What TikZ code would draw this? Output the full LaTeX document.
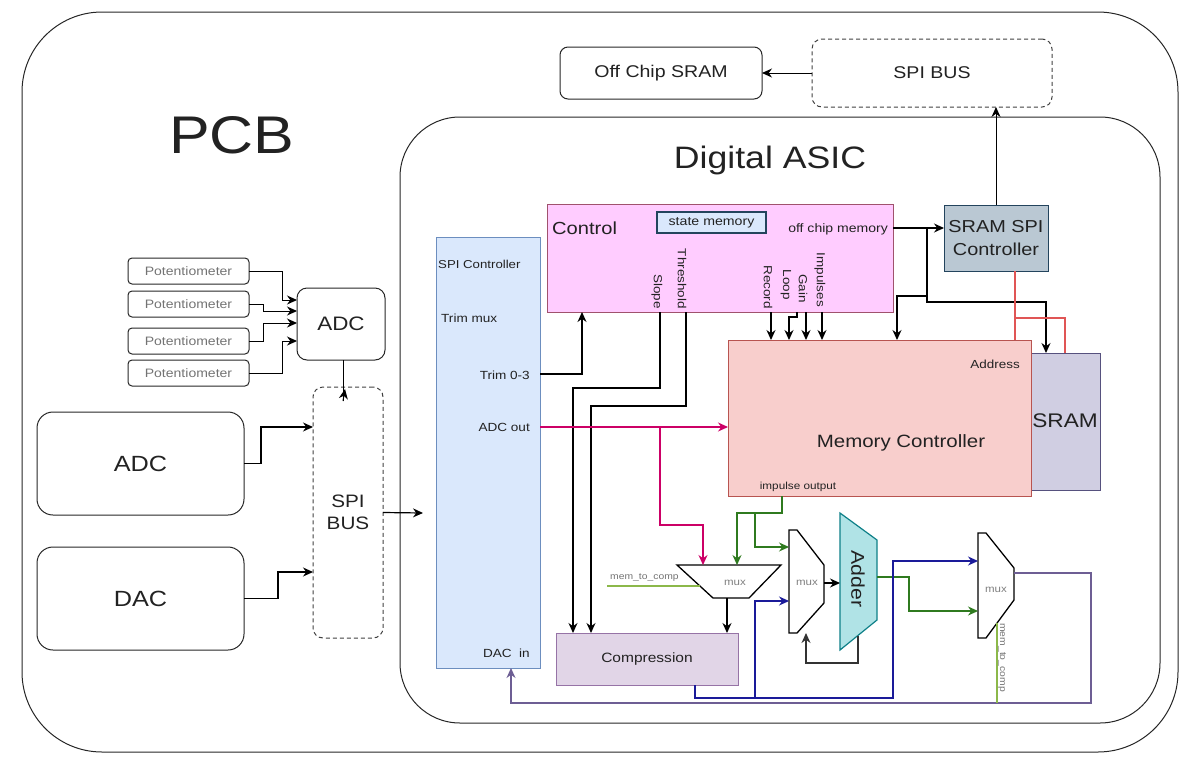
\documentclass[tikz,border=0pt]{standalone}
\usepackage{fontspec}
\setmainfont{Liberation Sans}[FakeStretch=1.15]
\usetikzlibrary{arrows.meta}
\definecolor{ctrlfill}{HTML}{FFCCFF}
\definecolor{ctrldraw}{HTML}{A0526D}
\definecolor{bluefill}{HTML}{DAE8FC}
\definecolor{bluedraw}{HTML}{6C8EBF}
\definecolor{redfill}{HTML}{F8CECC}
\definecolor{reddraw}{HTML}{B85450}
\definecolor{sramfill}{HTML}{D0CEE2}
\definecolor{sramdraw}{HTML}{56517E}
\definecolor{grayfill}{HTML}{BAC8D3}
\definecolor{graydraw}{HTML}{23445D}
\definecolor{purpfill}{HTML}{E1D5E7}
\definecolor{purpdraw}{HTML}{9673A6}
\definecolor{tealfill}{HTML}{B0E3E6}
\definecolor{tealdraw}{HTML}{0E8088}
\definecolor{magline}{HTML}{CC0066}
\definecolor{grnline}{HTML}{2F7A1F}
\definecolor{ltgreen}{HTML}{8CB84A}
\definecolor{navyline}{HTML}{1A1A99}
\definecolor{purpline}{HTML}{6D5E94}
\definecolor{redline}{HTML}{E05555}
\definecolor{txt}{HTML}{222222}
\tikzset{
  fs/.style={font=\fontsize{#1}{#1}\selectfont},
  blk/.style={inner sep=0pt, outer sep=0pt, anchor=north west},
  rbox/.style={blk, draw=black!85, line width=1pt, rounded corners=#1},
  dbox/.style={blk, draw=black!75, line width=1pt, dashed, dash pattern=on 4pt off 3pt, rounded corners=10},
  arr/.style={line width=1.2pt, -{Stealth[length=10pt,width=9pt]}},
  arrM/.style={draw=magline, line width=1.2pt, -{Stealth[length=10pt,width=9pt]}},
  arrG/.style={draw=grnline, line width=1.2pt, -{Stealth[length=10pt,width=9pt]}},
  arrB/.style={draw=navyline, line width=1.2pt, -{Stealth[length=10pt,width=9pt]}},
  arrP/.style={draw=purpline, line width=1.2pt, -{Stealth[length=10pt,width=9pt]}},
  lbl/.style={text=txt, inner sep=0pt, fs=11.8},
  vlbl/.style={text=txt, inner sep=0pt, fs=11.7, rotate=-90, anchor=east},
}
\begin{document}
\begin{tikzpicture}[x=1pt,y=-1pt]
\useasboundingbox (0,0) rectangle (1184,756);
% containers
\node[rbox=80, minimum width=1156, minimum height=740] (pcb) at (22,12) {};
\node[rbox=60, minimum width=760, minimum height=606] (asic) at (400,117) {};
\node[fs=53, text=txt] (pcbl) at (232,135) {PCB};
\node[fs=31, text=txt] (asicl) at (770,160) {Digital ASIC};
% top
\node[rbox=8, minimum width=202, minimum height=52, fs=17, text=txt] (offsram) at (560,47) {Off Chip SRAM};
\node[dbox, minimum width=240, minimum height=68, fs=17, text=txt] (spibusT) at (812,39) {SPI BUS};
\node[blk, draw=graydraw, fill=grayfill, line width=1pt, minimum width=104, minimum height=66, align=center, fs=17.3, text=txt] (sramspi) at (944,205) {SRAM SPI\\[5pt]Controller};
% control
\node[blk, draw=ctrldraw, fill=ctrlfill, line width=1pt, minimum width=346, minimum height=108] (ctrl) at (547,204) {};
\node[lbl, fs=17.5, anchor=west] (ctrll) at (552,228) {Control};
\node[blk, draw=graydraw, fill=bluefill, line width=1.5pt, minimum width=109, minimum height=21, fs=12.3, text=txt] (statemem) at (657,212) {state memory};
\node[lbl, fs=12.2, anchor=east] (ocml) at (888,229) {off chip memory};
\node[vlbl] (slope) at (657,309) {Slope};
\node[vlbl] (thresh) at (682,309) {Threshold};
\node[vlbl] (record) at (768,309) {Record};
\node[vlbl] (loop) at (786,300) {Loop};
\node[vlbl] (gain) at (803,303) {Gain};
\node[vlbl] (impulses) at (820,307) {Impulses};
% SPI controller
\node[blk, draw=bluedraw, fill=bluefill, line width=1pt, minimum width=104, minimum height=431] (spictrl) at (436,237) {};
\node[lbl, fs=11.5, anchor=west] (spil) at (438,264) {SPI Controller};
\node[lbl, anchor=west] (trimmux) at (441,318) {Trim mux};
\node[lbl, anchor=east] (trim03) at (530,375) {Trim 0-3};
\node[lbl, anchor=east] (adcout) at (530,427) {ADC out};
\node[lbl, anchor=east] (dacin) at (530,653) {DAC\ \ in};
% SRAM and memory controller
\node[blk, draw=sramdraw, fill=sramfill, line width=1pt, minimum width=69, minimum height=137] (sram) at (1031,353) {};
\node[fs=19.7, text=txt] (sraml) at (1065,421) {SRAM};
\node[blk, draw=reddraw, fill=redfill, line width=1pt, minimum width=303, minimum height=156] (memctrl) at (728,340) {};
\node[fs=17.8, text=txt] (memctrll) at (901,443) {Memory Controller};
\node[lbl, fs=11.7, anchor=east] (addrl) at (1020,364) {Address};
\node[lbl, fs=10.2] (impoutl) at (798,487) {impulse output};
% compression
\node[blk, draw=purpdraw, fill=purpfill, line width=1pt, minimum width=182, minimum height=52, fs=13.5, text=txt] (comp) at (556,633) {Compression};
% muxes and adder
\draw[line width=1.3pt, fill=white] (677,565) -- (781,565) -- (749,598) -- (713,598) -- cycle;
\node[lbl, fs=10, text=black!50] (mux1) at (735,583) {mux};
\draw[line width=1.3pt, fill=white] (789,530) -- (797,530) -- (824,565) -- (824,603) -- (797,633) -- (789,633) -- cycle;
\node[lbl, fs=10, text=black!50] (mux2) at (807,583) {mux};
\draw[draw=tealdraw, fill=tealfill, line width=1.2pt] (840,513) -- (877,540) -- (877,620) -- (840,650) -- cycle;
\node[fs=18.5, text=txt, rotate=-90] (adder) at (858,579) {Adder};
\draw[line width=1.3pt, fill=white] (978,533) -- (986,533) -- (1014,568) -- (1014,600) -- (986,638) -- (978,638) -- cycle;
\node[lbl, fs=10, text=black!50] (mux3) at (996,590) {mux};
% left side
\foreach \n/\y in {1/258,2/291,3/328,4/360}{
  \node[rbox=4, minimum width=121, minimum height=26, fs=12.2, text=black!55, line width=1pt] (pot\n) at (128,\y) {Potentiometer};
}
\node[rbox=10, minimum width=88, minimum height=72, fs=19.5, text=txt] (adcs) at (297,288) {ADC};
\node[dbox, minimum width=70, minimum height=251, align=center, fs=18, text=txt] (spibusL) at (313,387) {SPI\\[4pt]BUS};
\node[rbox=16, minimum width=207, minimum height=103, fs=22, text=txt] (adcB) at (37,412) {ADC};
\node[rbox=16, minimum width=207, minimum height=103, fs=22, text=txt] (dacB) at (37,547) {DAC};
% ---- connectors ----
\draw[arr, line width=1pt] (spibusT.west) -- (offsram.east);
\draw[arr, line width=1pt] (sramspi.north) -- (sramspi.north |- spibusT.south);
\coordinate (ocm) at (893,228);
\draw[arr] (ocm) -- (ocm -| sramspi.west);
\coordinate (j1) at (927,228);
\coordinate (j2) at (1046,302);
\draw[arr] (j1) |- (j2) -- (j2 |- sram.north);
\coordinate (j3) at (927,296);
\coordinate (j4) at (897,296);
\draw[arr] (j3) -- (j4) -- (j4 |- memctrl.north);
\coordinate (r1) at (1015,318);
\coordinate (r2) at (1065,318);
\draw[redline, line width=1.2pt] (sramspi.south -| r1) -- (r1 |- memctrl.north);
\draw[redline, line width=1.2pt] (r1) -- (r2) -- (r2 |- sram.north);
% control outputs
\coordinate (sl) at (660,388); \coordinate (sl2) at (573,388);
\draw[arr] (ctrl.south -| sl) -- (sl) -- (sl2) -- (sl2 |- comp.north);
\coordinate (th) at (686,406); \coordinate (th2) at (591,406);
\draw[arr] (ctrl.south -| th) -- (th) -- (th2) -- (th2 |- comp.north);
\coordinate (tr) at (582,374);
\draw[arr] (spictrl.east |- tr) -- (tr) -- (tr |- ctrl.south);
\coordinate (c1) at (771,320); \coordinate (c2) at (797,317); \coordinate (c3) at (789,317);
\coordinate (c4) at (806,320); \coordinate (c5) at (822,320);
\draw[arr] (ctrl.south -| c1) -- (c1 |- memctrl.north);
\draw[arr] (ctrl.south -| c2) -- (c2) -- (c3) -- (c3 |- memctrl.north);
\draw[arr] (ctrl.south -| c4) -- (c4 |- memctrl.north);
\draw[arr] (ctrl.south -| c5) -- (c5 |- memctrl.north);
% ADC out
\coordinate (ao) at (660,427); \coordinate (ao2) at (660,525); \coordinate (ao3) at (703,565);
\draw[arrM] (spictrl.east |- ao) -- (ao -| memctrl.west);
\draw[arrM] (ao) -- (ao2) -| (ao3);
% impulse output
\coordinate (g0) at (782,496); \coordinate (g1) at (782,513); \coordinate (g2) at (737,565);
\coordinate (g3) at (755,513); \coordinate (g4) at (789,547);
\draw[arrG] (g0) -- (g1) -| (g2);
\draw[arrG] (g3) |- (g4);
% mem_to_comp 1
\coordinate (m1) at (607,586); \coordinate (m2) at (700,586);
\draw[ltgreen, line width=1.2pt] (m1) -- (m2);
\node[lbl, fs=9, text=black!55, anchor=south west] (mtc1) at (610,582) {mem\_to\_comp};
% mux1 out
\coordinate (mo1) at (727,598);
\draw[arr] (mo1) -- (mo1 |- comp.north);
% mux2 -> adder
\coordinate (mo2) at (824,583); \coordinate (ai) at (840,583);
\draw[arr] (mo2) -- (ai);
% adder feedback
\coordinate (f1) at (858,636); \coordinate (f2) at (858,663); \coordinate (f3) at (806,633);
\draw[arr, draw=black!80] (f1) -- (f2) -| (f3);
% adder -> mux3
\coordinate (a1) at (877,577); \coordinate (a2) at (909,577); \coordinate (a3) at (978,611);
\draw[arrG] (a1) -- (a2) |- (a3);
% blue
\coordinate (b0) at (695,685); \coordinate (b1) at (893,698); \coordinate (b2) at (978,561);
\coordinate (b3) at (755,698); \coordinate (b4) at (789,601);
\draw[arrB] (comp.south -| b0) |- (b1) |- (b2);
\draw[arrB] (b3) |- (b4);
% mux3 out -> DAC in
\coordinate (p0) at (1014,573); \coordinate (p1) at (1091,703); \coordinate (p2) at (511,703);
\draw[arrP] (p0) -| (p1) -- (p2) -- (p2 |- spictrl.south);
% mem_to_comp 2
\coordinate (m3) at (997,623); \coordinate (m4) at (997,703);
\draw[ltgreen, line width=1.2pt] (m3) -- (m4);
\node[lbl, fs=9, text=black!55, rotate=-90, anchor=east] (mtc2) at (1002,692) {mem\_to\_comp};
% left connectors
\coordinate (q1) at (282,300); \coordinate (q2) at (263,311);
\coordinate (q3) at (263,323); \coordinate (q4) at (282,341);
\draw[arr, line width=1pt] (pot1.east) -| (q1) -- (q1 -| adcs.west);
\draw[arr, line width=1pt] (pot2.east) -| (q2) -- (q2 -| adcs.west);
\draw[arr, line width=1pt] (pot3.east) -| (q3) -- (q3 -| adcs.west);
\draw[arr, line width=1pt] (pot4.east) -| (q4) -- (q4 -| adcs.west);
\coordinate (d1) at (343,401); \coordinate (d2) at (345,389);
\draw[line width=1pt] (adcs.south -| d1) -- (d1);
\draw[arr, line width=1pt] (d1) -- (d2);
\coordinate (e1) at (261,427); \coordinate (e2) at (278,572);
\draw[arr] (adcB.east) -| (e1) -- (e1 -| spibusL.west);
\draw[arr] (dacB.east) -| (e2) -- (e2 -| spibusL.west);
\coordinate (s1) at (423,513);
\draw[arr] (spibusL.east) -- (s1);
\end{tikzpicture}
\end{document}
